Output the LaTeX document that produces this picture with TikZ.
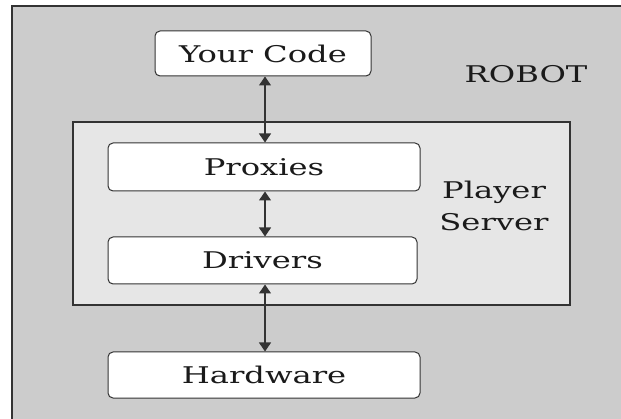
\documentclass[tikz,border=0pt]{standalone}
\usepackage{fontspec}
\setmainfont{DejaVu Serif}
\newfontfamily\widefont[FakeStretch=1.4]{DejaVu Serif}
\usetikzlibrary{arrows.meta}
\definecolor{outerfill}{HTML}{CCCCCC}
\definecolor{innerfill}{HTML}{E6E6E6}
\definecolor{edge}{HTML}{333333}
\definecolor{txt}{HTML}{1A1A1A}
\begin{document}
\begin{tikzpicture}[x=1pt,y=-1pt,
  box/.style={draw=edge, line width=1pt, fill=white, rounded corners=5pt, text=txt, font=\widefont\fontsize{23}{27}\selectfont},
  lbl/.style={text=txt, font=\widefont\fontsize{23}{27}\selectfont, inner sep=0pt},
  link/.style={draw=edge, line width=1.1pt, {Triangle[length=9pt,width=12pt]}-{Triangle[length=9pt,width=12pt]}}]
\useasboundingbox (0,0) rectangle (621,419);
\fill[white] (0,0) rectangle (621,419);
\clip (0,0) rectangle (621,419);
\draw[fill=outerfill, draw=edge, line width=2pt] (12,6) rectangle (660,460);
\draw[fill=innerfill, draw=edge, line width=1.2pt] (73,122) rectangle (570,305);
\node[box, minimum width=216pt, minimum height=45pt] (code) at (263,53.5) {Your Code};
\node[box, minimum width=312pt, minimum height=48pt] (prox) at (264,167) {Proxies};
\node[box, minimum width=309pt, minimum height=47pt] (drv) at (262.5,260.5) {Drivers};
\node[box, minimum width=312pt, minimum height=46pt] (hw) at (264,375) {Hardware};
\node[lbl] (robot) at (526,74) {ROBOT};
\node[lbl, align=center, font=\widefont\fontsize{23}{32}\selectfont] (ps) at (494,206) {Player\\Server};
\draw[link] (code.south -| 265,0) -- (prox.north -| 265,0);
\draw[link] (prox.south -| 265,0) -- (drv.north -| 265,0);
\draw[link] (drv.south -| 265,0) -- (hw.north -| 265,0);
\end{tikzpicture}
\end{document}
